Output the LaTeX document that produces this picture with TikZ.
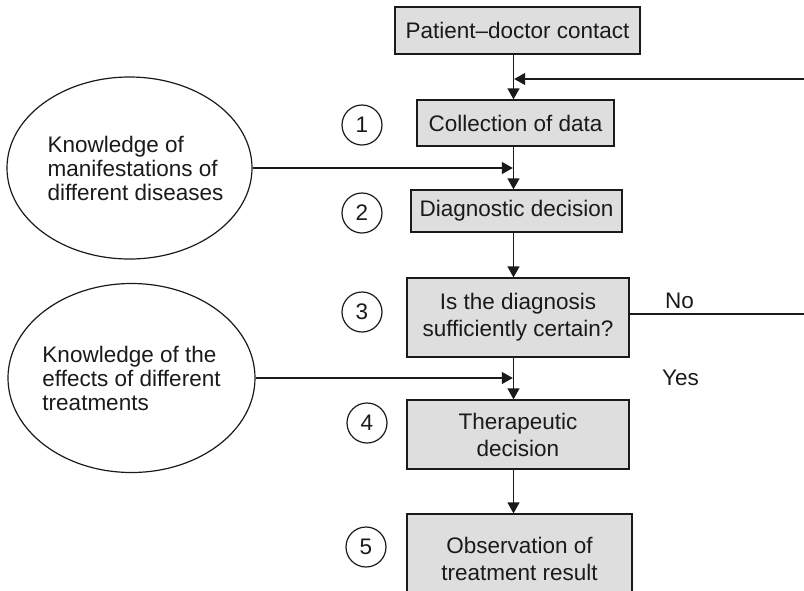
\documentclass[tikz,border=0pt]{standalone}
\usepackage{fontspec}
\setmainfont{Liberation Sans}
\usetikzlibrary{arrows.meta,shapes.geometric}
\definecolor{boxgray}{HTML}{DEDEDE}
\definecolor{inkc}{HTML}{1A1A1A}
\begin{document}
\begin{tikzpicture}[x=1pt,y=-1pt,
  box/.style={draw=inkc,fill=boxgray,line width=1.3pt,inner sep=0pt,align=center,
    text=inkc,font=\fontsize{22.5}{27}\selectfont},
  know/.style={draw=inkc,ellipse,line width=1.2pt,inner sep=0pt},
  knowtext/.style={inner sep=0pt,align=left,text=inkc,font=\fontsize{22.5}{24}\selectfont},
  num/.style={draw=inkc,circle,line width=1.2pt,minimum size=40pt,inner sep=0pt,
    text=inkc,font=\fontsize{22.5}{24}\selectfont},
  lbl/.style={anchor=west,inner sep=0pt,text=inkc,font=\fontsize{22.5}{24}\selectfont},
  conn/.style={draw=inkc,line width=1.3pt,-{Triangle[length=11pt,width=12pt]}},
  plain/.style={draw=inkc,line width=1.3pt}]
\useasboundingbox (0,0) rectangle (804,590);
\coordinate (spine) at (513.5,0);
% boxes
\node[box,minimum width=245pt,minimum height=47pt] (pdc) at (517.5,30.5) {Patient--doctor contact};
\node[box,minimum width=197pt,minimum height=46pt] (col) at (515.5,123) {Collection of data};
\node[box,minimum width=211pt,minimum height=42pt] (diag) at (516.5,211) {Diagnostic decision};
\node[box,minimum width=222pt,minimum height=79pt] (dec) at (518,317.5) {Is the diagnosis\\sufficiently certain?};
\node[box,minimum width=222pt,minimum height=69pt] (ther) at (518,434.5) {Therapeutic\\decision};
\node[box,minimum width=225pt,minimum height=90pt] (obs) at (519.5,559) {Observation of\\treatment result};
% knowledge ellipses
\node[know,minimum width=245pt,minimum height=182pt,
  label={[knowtext,xshift=6pt]center:Knowledge of\\manifestations of\\different diseases}] (e1) at (129.5,168) {};
\node[know,minimum width=247pt,minimum height=189pt,
  label={[knowtext]center:Knowledge of the\\effects of different\\treatments}] (e2) at (131.5,378) {};
% step numbers
\node[num] (n1) at (362,125) {1};
\node[num] (n2) at (362,213) {2};
\node[num] (n3) at (362,312) {3};
\node[num] (n4) at (367,423) {4};
\node[num] (n5) at (366,547) {5};
% labels
\node[lbl] (no) at (665,301) {No};
\node[lbl] (yes) at (662,378) {Yes};
% connectors
\coordinate (fbR) at (805,79);
\coordinate (noR) at (805,314);
\draw[conn] (pdc.south -| spine) -- (col.north -| spine);
\draw[conn] (col.south -| spine) -- (diag.north -| spine);
\draw[conn] (diag.south -| spine) -- (dec.north -| spine);
\draw[conn] (dec.south -| spine) -- (ther.north -| spine);
\draw[conn] (ther.south -| spine) -- (obs.north -| spine);
\draw[conn,shorten >=0.7pt] (fbR) -- (fbR -| spine);
\draw[conn,shorten >=0.7pt] (e1.east) -- (e1.east -| spine);
\draw[conn,shorten >=0.7pt] (e2.east) -- (e2.east -| spine);
\draw[plain] (dec.east |- noR) -- (noR);
\end{tikzpicture}
\end{document}
